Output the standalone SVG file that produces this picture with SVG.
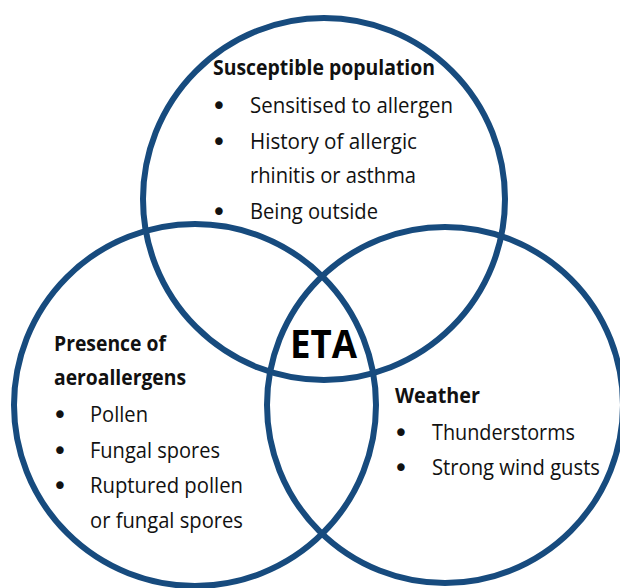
<svg xmlns="http://www.w3.org/2000/svg" width="620" height="588" viewBox="0 0 620 588">
  <style>
    .ring { fill: none; stroke: #174b7e; stroke-width: 6; }
    .t { font-family: "Open Sans", Lato, "Liberation Sans", sans-serif; font-size: 21px; fill: #111; }
    .b { font-weight: bold; }
    .eta { font-family: "Open Sans", Lato, "Liberation Sans", sans-serif; font-size: 40px; font-weight: bold; fill: #000; }
    .dot { font-family: "DejaVu Sans", sans-serif; font-size: 26px; fill: #111; text-anchor: middle; }
  </style>
  <rect width="620" height="588" fill="#fff"/>

  <g id="susceptible-population">
    <circle class="ring" cx="324" cy="199" r="181"/>
    <text class="t b" x="213" y="75" textLength="222" lengthAdjust="spacingAndGlyphs">Susceptible population</text>
    <text class="dot" x="219" y="115">•</text>
    <text class="t" x="250" y="113" textLength="203" lengthAdjust="spacingAndGlyphs">Sensitised to allergen</text>
    <text class="dot" x="219" y="151">•</text>
    <text class="t" x="250" y="149" textLength="167" lengthAdjust="spacingAndGlyphs">History of allergic</text>
    <text class="t" x="250" y="183" textLength="166" lengthAdjust="spacingAndGlyphs">rhinitis or asthma</text>
    <text class="dot" x="219" y="221">•</text>
    <text class="t" x="250" y="219" textLength="128" lengthAdjust="spacingAndGlyphs">Being outside</text>
  </g>

  <g id="aeroallergens">
    <circle class="ring" cx="195" cy="405" r="181"/>
    <text class="t b" x="54" y="351" textLength="112" lengthAdjust="spacingAndGlyphs">Presence of</text>
    <text class="t b" x="54" y="385" textLength="132" lengthAdjust="spacingAndGlyphs">aeroallergens</text>
    <text class="dot" x="60" y="424">•</text>
    <text class="t" x="90" y="422" textLength="58" lengthAdjust="spacingAndGlyphs">Pollen</text>
    <text class="dot" x="60" y="460">•</text>
    <text class="t" x="90" y="458" textLength="130" lengthAdjust="spacingAndGlyphs">Fungal spores</text>
    <text class="dot" x="60" y="495">•</text>
    <text class="t" x="90" y="493" textLength="153" lengthAdjust="spacingAndGlyphs">Ruptured pollen</text>
    <text class="t" x="90" y="528" textLength="153" lengthAdjust="spacingAndGlyphs">or fungal spores</text>
  </g>

  <g id="weather">
    <circle class="ring" cx="445" cy="405" r="178"/>
    <text class="t b" x="395" y="403" textLength="85" lengthAdjust="spacingAndGlyphs">Weather</text>
    <text class="dot" x="401" y="442">•</text>
    <text class="t" x="432" y="440" textLength="143" lengthAdjust="spacingAndGlyphs">Thunderstorms</text>
    <text class="dot" x="401" y="477">•</text>
    <text class="t" x="432" y="475" textLength="168" lengthAdjust="spacingAndGlyphs">Strong wind gusts</text>
  </g>

  <g id="eta">
    <text class="eta" x="290" y="358" textLength="67" lengthAdjust="spacingAndGlyphs">ETA</text>
  </g>
</svg>
